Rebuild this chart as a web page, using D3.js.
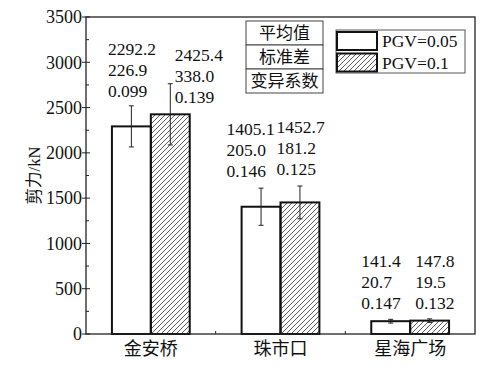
<!DOCTYPE html>
<html>
<head>
<meta charset="utf-8">
<script src="https://cdn.jsdelivr.net/npm/d3@7"></script>
<style>
  body { margin: 0; background: #fff; }
  text { font-family: "Liberation Serif", "Noto Sans CJK SC", serif; fill: #111; }
</style>
</head>
<body>
<svg id="chart" width="492" height="370"></svg>
<script>
'use strict';

/* Data */
const sites = ['金安桥', '珠市口', '星海广场'];
const seriesNames = ['PGV=0.05', 'PGV=0.1'];
const mean005 = [2292.2, 1405.1, 141.4];
const sd005 = [226.9, 205.0, 20.7];
const cov005 = [0.099, 0.146, 0.147];
const mean01 = [2425.4, 1452.7, 147.8];
const sd01 = [338.0, 181.2, 19.5];
const cov01 = [0.139, 0.125, 0.132];
const yTicks = [0, 500, 1000, 1500, 2000, 2500, 3000, 3500];
const statNames = ['平均值', '标准差', '变异系数'];

/* Layout */
var margin = { top: 17, right: 17, bottom: 36, left: 86 },
    W = 492, H = 370,
    // hand-placed stat labels: [dx from bar left, baseline of first line]
    labelPos = [[[-4, 55], [24, 61]], [[-15, 135], [-4, 133]], [[-10, 267], [5, 267]]],
    lineGap = 21;

var svg = d3.select('#chart');

var defs = svg.append('defs');
var pat = defs.append('pattern')
    .attr('id', 'hatch')
    .attr('patternUnits', 'userSpaceOnUse')
    .attr('width', 5).attr('height', 5);
pat.append('path')
    .attr('d', 'M0,5 L5,0 M-1,1 L1,-1 M4,6 L6,4')
    .attr('stroke', '#333').attr('stroke-width', 0.8);

var x = d3.scaleBand()
    .domain(sites)
    .range([margin.left, W - margin.right])
    .paddingInner(0.4)
    .paddingOuter(0.2);
var xs = d3.scaleBand().domain(seriesNames).range([0, x.bandwidth()]);
var y = d3.scaleLinear().domain([0, 3500]).range([H - margin.bottom, margin.top]);

var series = [
    { name: seriesNames[0], mean: mean005, sd: sd005, cov: cov005, fill: '#fff' },
    { name: seriesNames[1], mean: mean01, sd: sd01, cov: cov01, fill: 'url(#hatch)' }
];

// bars
series.forEach(function(s, si) {
    sites.forEach(function(site, i) {
        var bx = x(site) + xs(s.name), bw = xs.bandwidth();
        svg.append('rect')
            .attr('x', bx).attr('y', y(s.mean[i]))
            .attr('width', bw).attr('height', y(0) - y(s.mean[i]))
            .attr('fill', s.fill).attr('stroke', '#111').attr('stroke-width', 2);
        // error bar
        var cx = bx + bw / 2, lo = y(s.mean[i] - s.sd[i]), hi = y(s.mean[i] + s.sd[i]);
        var eb = svg.append('g').attr('stroke', '#222').attr('stroke-width', 1);
        eb.append('line').attr('x1', cx).attr('x2', cx).attr('y1', lo).attr('y2', hi);
        eb.append('line').attr('x1', cx - 2.5).attr('x2', cx + 2.5).attr('y1', lo).attr('y2', lo);
        eb.append('line').attr('x1', cx - 2.5).attr('x2', cx + 2.5).attr('y1', hi).attr('y2', hi);
        // stat labels
        var lp = labelPos[i][si];
        [s.mean[i].toFixed(1), s.sd[i].toFixed(1), s.cov[i].toFixed(3)].forEach(function(t, k) {
            svg.append('text')
                .attr('x', bx + lp[0]).attr('y', lp[1] + k * lineGap)
                .attr('font-size', 17.5).text(t);
        });
    });
});

// frame
svg.append('rect')
    .attr('x', margin.left).attr('y', margin.top)
    .attr('width', W - margin.left - margin.right)
    .attr('height', H - margin.top - margin.bottom)
    .attr('fill', 'none').attr('stroke', '#222').attr('stroke-width', 1.3);

// y axis ticks
var yAxis = svg.append('g');
d3.range(0, 3501, 250).forEach(function(v) {
    var major = v % 500 === 0;
    yAxis.append('line')
        .attr('x1', margin.left - (major ? 4 : 0)).attr('x2', margin.left + (major ? 4 : 3))
        .attr('y1', y(v)).attr('y2', y(v))
        .attr('stroke', '#222').attr('stroke-width', 1);
});
yTicks.forEach(function(v) {
    yAxis.append('text')
        .attr('x', margin.left - 4).attr('y', y(v))
        .attr('dy', '0.35em').attr('text-anchor', 'end')
        .attr('font-size', 18).text(v);
});

// x axis: small ticks at group boundaries, labels at centers
sites.slice(1).forEach(function(site) {
    var bx = x(site) - x.step() * x.paddingInner() / 2 - (x.step() - x.bandwidth()) / 2 + x.step() * 0.2;
    var tx = x(site) - (x.step() - x.bandwidth()) / 2;
    svg.append('line')
        .attr('x1', tx).attr('x2', tx)
        .attr('y1', y(0)).attr('y2', y(0) - 3)
        .attr('stroke', '#222').attr('stroke-width', 1);
});
sites.forEach(function(site) {
    svg.append('text')
        .attr('x', x(site) + x.bandwidth() / 2).attr('y', 355)
        .attr('text-anchor', 'middle').attr('font-size', 18).text(site);
});

// y title
svg.append('text')
    .attr('transform', 'translate(40,' + ((margin.top + H - margin.bottom) / 2) + ') rotate(-90)')
    .attr('text-anchor', 'middle').attr('font-size', 16.5).text('剪力/kN');

// stats table
var tbl = svg.append('g');
statNames.forEach(function(t, k) {
    tbl.append('rect')
        .attr('x', 246).attr('y', 21 + k * 24)
        .attr('width', 77).attr('height', 24)
        .attr('fill', '#fff').attr('stroke', '#444').attr('stroke-width', 1);
    tbl.append('text')
        .attr('x', 284.5).attr('y', 21 + k * 24 + 12)
        .attr('dy', '0.36em').attr('text-anchor', 'middle')
        .attr('font-size', 17).text(t);
});

// legend
var lg = svg.append('g');
lg.append('rect')
    .attr('x', 336).attr('y', 30).attr('width', 129).attr('height', 43)
    .attr('fill', '#fff').attr('stroke', '#555').attr('stroke-width', 1);
series.forEach(function(s, k) {
    lg.append('rect')
        .attr('x', 337).attr('y', 32 + k * 21.5)
        .attr('width', 40).attr('height', 18)
        .attr('fill', s.fill).attr('stroke', '#111').attr('stroke-width', 2);
    lg.append('text')
        .attr('x', 382).attr('y', 41 + k * 21.5)
        .attr('dy', '0.35em').attr('font-size', 17.5).text(s.name);
});
</script>
</body>
</html>
